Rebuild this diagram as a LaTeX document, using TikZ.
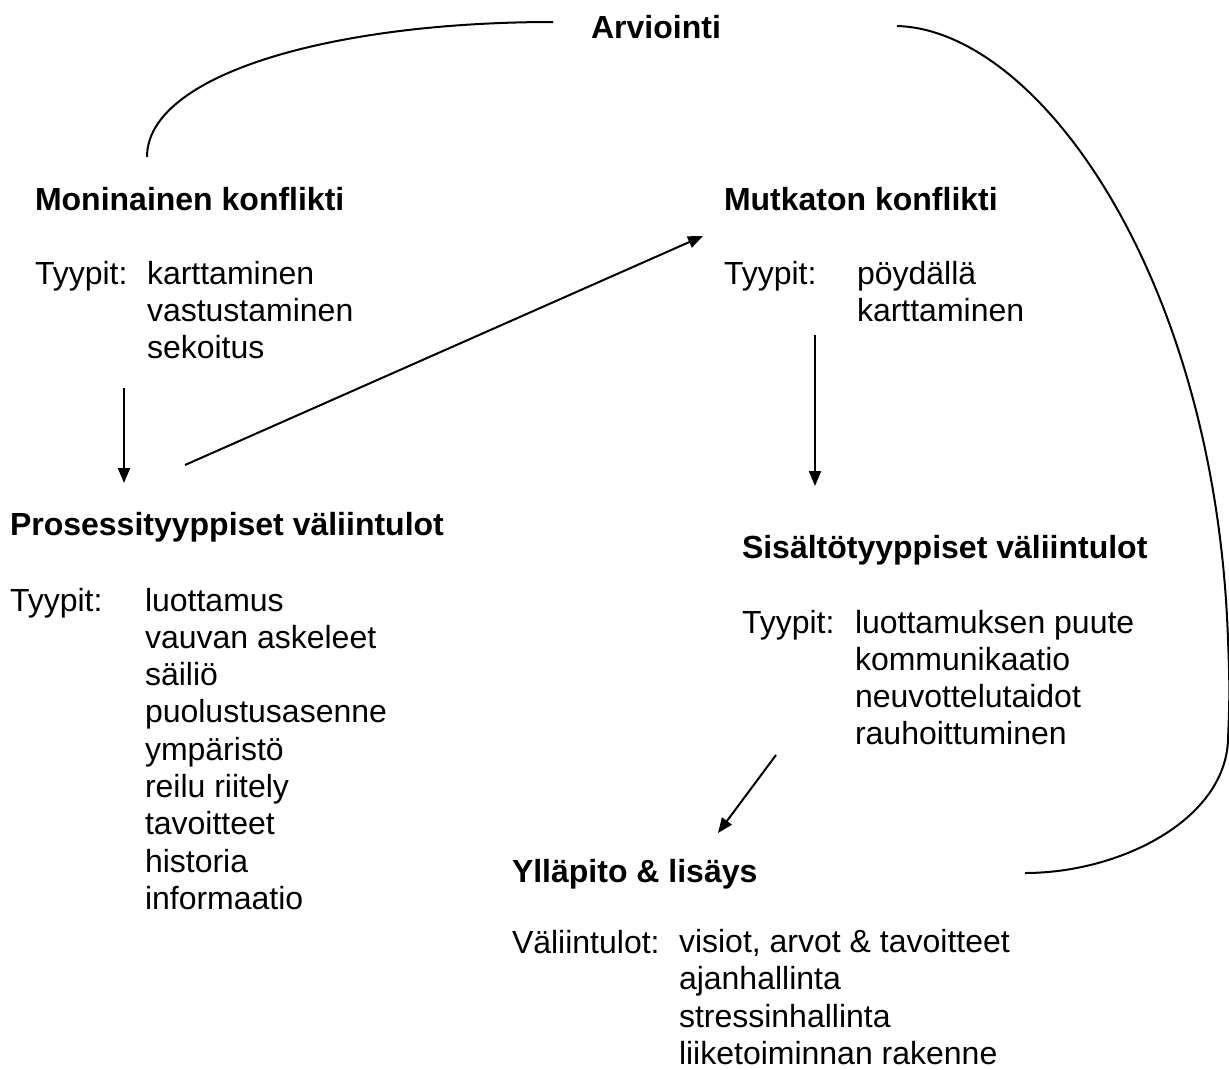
\documentclass[tikz,border=0pt]{standalone}
\usepackage{fontspec}
\setmainfont{Liberation Sans}
\usetikzlibrary{arrows.meta}
\begin{document}
\begin{tikzpicture}[x=1pt,y=-1pt,
  every node/.style={inner sep=0pt,outer sep=0pt,anchor=base west,
    font=\fontsize{32}{37.3}\selectfont},
  head/.style={font=\fontsize{32}{37.3}\selectfont\bfseries},
  lst/.style={align=left},
  arr/.style={line width=2pt,-{Triangle[length=15pt,width=12pt]}},
  loop/.style={line width=2pt}]
\useasboundingbox (0,0) rectangle (1229,1069);

% heading of the cycle
\node[head,anchor=base] (arv) at (656,38) {Arviointi};

% multiple conflict (lists are placed by the baseline of their last line)
\node[head] (mon) at (35,210) {Moninainen konflikti};
\node (monT) at (35,284) {Tyypit:};
\node[lst] (monL) at (147,358.6) {karttaminen\\vastustaminen\\sekoitus};

% simple conflict
\node[head] (mut) at (724,210) {Mutkaton konflikti};
\node (mutT) at (724,284) {Tyypit:};
\node[lst] (mutL) at (857,321.3) {pöydällä\\karttaminen};

% process interventions
\node[head] (pro) at (10,535) {Prosessityyppiset väliintulot};
\node (proT) at (10,611) {Tyypit:};
\node[lst] (proL) at (145,909.4) {luottamus\\vauvan askeleet\\säiliö\\puolustusasenne\\ympäristö\\reilu riitely\\tavoitteet\\historia\\informaatio};

% content interventions
\node[head] (sis) at (742,558) {Sisältötyyppiset väliintulot};
\node (sisT) at (742,633) {Tyypit:};
\node[lst] (sisL) at (855,744.9) {luottamuksen puute\\kommunikaatio\\neuvottelutaidot\\rauhoittuminen};

% maintenance
\node[head] (yll) at (512,882) {Ylläpito \& lisäys};
\node (yllT) at (512,953) {Väliintulot:};
\node[lst] (yllL) at (679,1064.5) {visiot, arvot \& tavoitteet\\ajanhallinta\\stressinhallinta\\liiketoiminnan rakenne};

% connector end points
\coordinate (a1s) at (124,388);
\coordinate (a1e) at (124,483);
\coordinate (a2s) at (185,465);
\coordinate (a2e) at (703,236);
\coordinate (a3s) at (815,335);
\coordinate (a3e) at (815,486);
\coordinate (a4s) at (776,755);
\coordinate (a4e) at (718,833);
\coordinate (c1s) at (553,22);
\coordinate (c1e) at (147,157);
\coordinate (c2s) at (897,26);
\coordinate (c2a) at (1228,640);
\coordinate (c2b) at (1228,740);
\coordinate (c2e) at (1025,873);

\draw[arr] (a1s) -- (a1e);
\draw[arr] (a2s) -- (a2e);
\draw[arr] (a3s) -- (a3e);
\draw[arr] (a4s) -- (a4e);

\draw[loop] (c1s) .. controls (330,22) and (147,75) .. (c1e);
\draw[loop] (c2s) .. controls (1040,30) and (1216,280) .. (c2a)
  .. controls (1230,690) and (1229.5,700) .. (c2b)
  .. controls (1225,820) and (1120,873) .. (c2e);
\end{tikzpicture}
\end{document}
